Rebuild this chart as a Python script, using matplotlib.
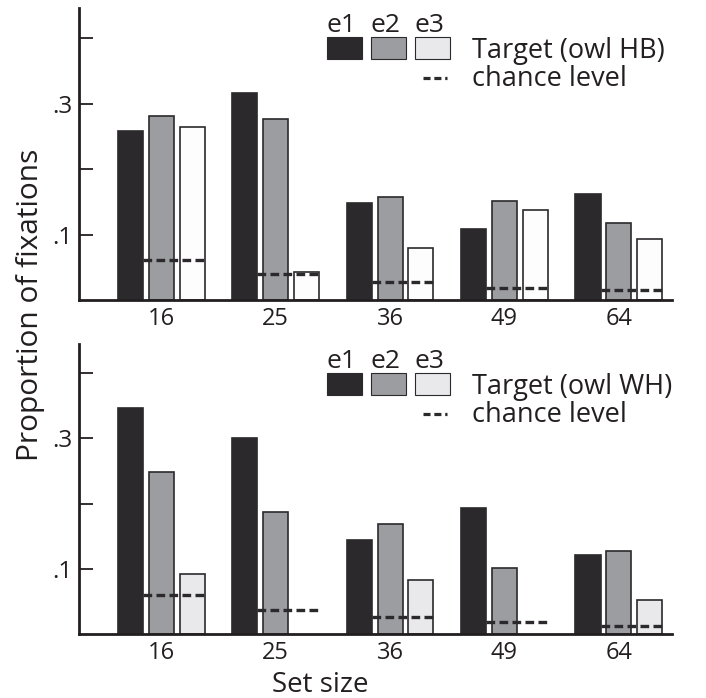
import numpy as np
import matplotlib
matplotlib.use("Agg")
import matplotlib.pyplot as plt
from matplotlib.patches import Rectangle
from matplotlib.lines import Line2D

plt.rcParams["font.family"] = ["Open Sans", "DejaVu Sans"]

set_sizes = ["16", "25", "36", "49", "64"]
experiments = ["e1", "e2", "e3"]

# owl HB target (top panel)
hb_e1 = [0.258, 0.316, 0.149, 0.109, 0.162]
hb_e2 = [0.281, 0.277, 0.157, 0.151, 0.118]
hb_e3 = [0.264, 0.043, 0.080, 0.137, 0.094]
hb_chance = [0.061, 0.039, 0.027, 0.019, 0.015]

# owl WH target (bottom panel)
wh_e1 = [0.346, 0.300, 0.144, 0.193, 0.122]
wh_e2 = [0.248, 0.187, 0.169, 0.101, 0.127]
wh_e3 = [0.093, np.nan, 0.083, np.nan, 0.053]
wh_chance = [0.060, 0.038, 0.026, 0.019, 0.013]

ink = "#231f20"
c_e1 = "#2b292b"
c_e2 = "#9c9da1"
c_e3_hb = "#fdfdfd"
c_e3_wh = "#e9e9eb"

fig = plt.figure(figsize=(7.06, 6.98), dpi=100)
ax_top = fig.add_axes([0.1119, 0.5702, 0.8399, 0.4183])
ax_bot = fig.add_axes([0.1119, 0.0910, 0.8399, 0.4162])

x = np.arange(len(set_sizes))
width = 0.219
offset = 0.27


def draw_panel(ax, values, chance, e3_color, target_label, ytop):
    colors = [c_e1, c_e2, e3_color]
    for i, (vals, col) in enumerate(zip(values, colors)):
        ax.bar(x + (i - 1) * offset, vals, width, color=col,
               edgecolor=c_e1, linewidth=1.2, zorder=2)

    # chance level from right edge of e1 to right edge of e3
    for xi, ch in zip(x, chance):
        ax.plot([xi - offset + width / 2, xi + offset + width / 2], [ch, ch],
                color=c_e1, lw=2.4, linestyle=(0, (2.6, 1.3)),
                solid_capstyle="butt", dash_capstyle="butt", zorder=3)

    ax.set_xlim(-0.719, 4.464)
    ax.set_ylim(0, ytop)
    ax.set_xticks(x)
    ax.set_xticklabels(set_sizes)
    ax.set_yticks([0.1, 0.2, 0.3, 0.4])
    ax.set_yticklabels([".1", "", ".3", ""])
    ax.tick_params(axis="x", length=0, pad=5, labelsize=17, colors=ink)
    ax.tick_params(axis="y", direction="in", length=10, width=1.3, pad=5,
                   labelsize=17.5, colors=ink)
    for side in ["top", "right"]:
        ax.spines[side].set_visible(False)
    for side in ["left", "bottom"]:
        ax.spines[side].set_linewidth(2.0)
        ax.spines[side].set_color(ink)

    # hand-made legend
    sq_x = [0.418, 0.492, 0.566]
    for sx, col, lab in zip(sq_x, [c_e1, c_e2, c_e3_wh], experiments):
        ax.add_patch(Rectangle((sx, 0.825), 0.06, 0.076, transform=ax.transAxes,
                               facecolor=col, edgecolor=c_e1, linewidth=0.8,
                               clip_on=False))
        ax.text(sx, 0.919, lab, transform=ax.transAxes, ha="left",
                va="baseline", fontsize=19, color=ink)
    ax.text(0.663, 0.828, target_label, transform=ax.transAxes, ha="left",
            va="baseline", fontsize=19.5, color=ink)
    ax.add_line(Line2D([0.58, 0.621], [0.76, 0.76],
                       transform=ax.transAxes, color=c_e1, lw=2.3,
                       linestyle=(0, (2.2, 1.2)), dash_capstyle="butt",
                       clip_on=False))
    ax.text(0.663, 0.733, "chance level", transform=ax.transAxes,
            ha="left", va="baseline", fontsize=19.5, color=ink)


draw_panel(ax_top, [hb_e1, hb_e2, hb_e3], hb_chance, c_e3_hb,
           "Target (owl HB)", 0.4465)
draw_panel(ax_bot, [wh_e1, wh_e2, wh_e3], wh_chance, c_e3_wh,
           "Target (owl WH)", 0.444)

fig.text(0.0425, 0.563, "Proportion of fixations", rotation=90, ha="center",
         va="center", fontsize=21.5, color=ink)
fig.text(0.453, 0.008, "Set size", ha="center", va="baseline", fontsize=20,
         color=ink)

fig.savefig("out.png", dpi=100)
